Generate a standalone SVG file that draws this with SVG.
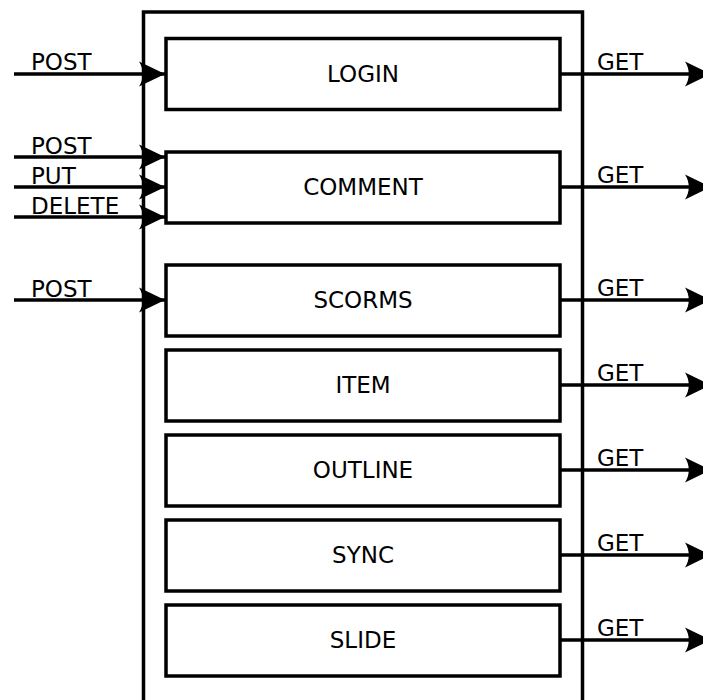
<svg xmlns="http://www.w3.org/2000/svg" width="703" height="700" viewBox="0 0 703 700">
<style>
.box{fill:#fff;stroke:#000;stroke-width:3.5}
.ln{fill:none;stroke:#000;stroke-width:3.5}
text{font-family:"DejaVu Sans",sans-serif;font-size:23px;fill:#000}
.c{text-anchor:middle}
</style>
<defs>
<marker id="ah" markerUnits="userSpaceOnUse" markerWidth="30" markerHeight="30" refX="0" refY="0" viewBox="-28 -14 30 28" orient="auto">
<path d="M0,0 L-26,-12.5 C-21,-5 -21,5 -26,12.5 Z" fill="#000"/>
</marker>
</defs>
<rect x="143.5" y="12" width="439" height="700" fill="none" stroke="#000" stroke-width="3.5"/>
<g id="connectors">
<path class="ln" d="M14,74 H165" marker-end="url(#ah)"/>
<path class="ln" d="M14,157 H165" marker-end="url(#ah)"/>
<path class="ln" d="M14,187 H165" marker-end="url(#ah)"/>
<path class="ln" d="M14,217 H165" marker-end="url(#ah)"/>
<path class="ln" d="M14,300 H165" marker-end="url(#ah)"/>
<path class="ln" d="M560,74 H711" marker-end="url(#ah)"/>
<path class="ln" d="M560,187 H711" marker-end="url(#ah)"/>
<path class="ln" d="M560,300 H711" marker-end="url(#ah)"/>
<path class="ln" d="M560,385 H711" marker-end="url(#ah)"/>
<path class="ln" d="M560,470 H711" marker-end="url(#ah)"/>
<path class="ln" d="M560,555 H711" marker-end="url(#ah)"/>
<path class="ln" d="M560,640 H711" marker-end="url(#ah)"/>
<text x="31" y="70">POST</text>
<text x="31" y="154">POST</text>
<text x="31" y="184">PUT</text>
<text x="31" y="214">DELETE</text>
<text x="31" y="297">POST</text>
<text x="597" y="70">GET</text>
<text x="597" y="183">GET</text>
<text x="597" y="296">GET</text>
<text x="597" y="381">GET</text>
<text x="597" y="466">GET</text>
<text x="597" y="551">GET</text>
<text x="597" y="636">GET</text>
</g>
<g id="login"><rect class="box" x="166" y="38.5" width="394" height="71"/><text class="c" x="363" y="82">LOGIN</text></g>
<g id="comment"><rect class="box" x="166" y="152" width="394" height="71"/><text class="c" x="363" y="195">COMMENT</text></g>
<g id="scorms"><rect class="box" x="166" y="265" width="394" height="71"/><text class="c" x="363" y="308">SCORMS</text></g>
<g id="item"><rect class="box" x="166" y="350" width="394" height="71"/><text class="c" x="363" y="393">ITEM</text></g>
<g id="outline"><rect class="box" x="166" y="435" width="394" height="71"/><text class="c" x="363" y="478">OUTLINE</text></g>
<g id="sync"><rect class="box" x="166" y="520" width="394" height="71"/><text class="c" x="363" y="563">SYNC</text></g>
<g id="slide"><rect class="box" x="166" y="605" width="394" height="71"/><text class="c" x="363" y="648">SLIDE</text></g>
</svg>
